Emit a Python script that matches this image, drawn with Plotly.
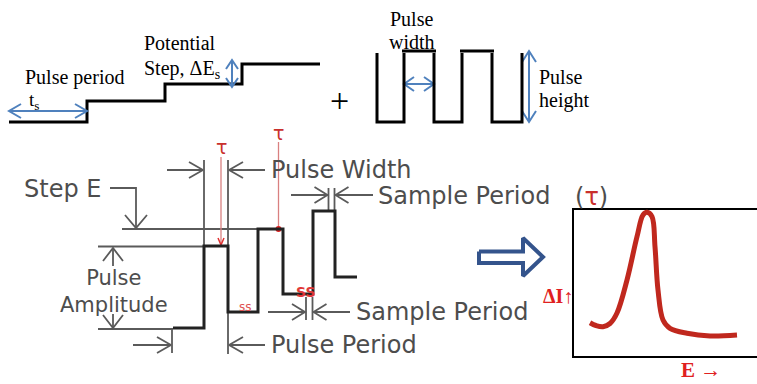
import plotly.graph_objects as go

# ---------------- data (diagram geometry, pixel units) ----------------
# Staircase (potential steps)
stair_x = [9, 87, 165, 242, 320]
stair_y = [122, 101, 84, 64]
# Square wave (pulses)
square_edges = [377, 404, 434, 462, 492, 522]
square_low = 122
square_high = 53
square_cap = 51
# Differential pulse waveform
dpv_x = [173, 204, 204, 228, 228, 258, 258, 283, 283, 313, 313, 335, 335, 357]
dpv_y = [328, 328, 246, 246, 312, 312, 229, 229, 294, 294, 211, 211, 277, 277]
# Peak-shaped response curve
peak_x = [590, 596, 603, 610, 617, 627, 637, 643, 647, 652, 655, 658, 663, 670, 687, 710, 737]
peak_y = [322.7, 325.5, 326.7, 323.5, 313, 280, 236.7, 215, 212.3, 216.7, 246.7, 290, 320, 328.3, 333.3, 336, 335]

GRAY = "#5a5a5a"
GRAY_TXT = "#4d4d4d"
BLUE = "#4f81bd"
DARK_BLUE = "#34548c"
RED = "#c9302c"
RED_LINE = "#d98080"

fig = go.Figure()


def add_path(xs, ys, color, width, shape="linear"):
    fig.add_trace(go.Scatter(x=xs, y=ys, mode="lines",
                             line=dict(color=color, width=width, shape=shape),
                             hoverinfo="skip", showlegend=False))


def add_segments(segments, color, width):
    xs, ys = [], []
    for seg in segments:
        for (x, y) in seg:
            xs.append(x)
            ys.append(y)
        xs.append(None)
        ys.append(None)
    add_path(xs, ys, color, width)


def head(tx, ty, d, length, half):
    # open V arrowhead with tip (tx, ty) pointing in direction d
    if d == "r":
        return [(tx - length, ty - half), (tx, ty), (tx - length, ty + half)]
    if d == "l":
        return [(tx + length, ty - half), (tx, ty), (tx + length, ty + half)]
    if d == "d":
        return [(tx - half, ty - length), (tx, ty), (tx + half, ty - length)]
    return [(tx - half, ty + length), (tx, ty), (tx + half, ty + length)]


def text(x, y, s, size, color, family, xanchor="left", yanchor="middle"):
    fig.add_annotation(x=x, y=y, text=s, showarrow=False, xanchor=xanchor,
                       yanchor=yanchor, font=dict(size=size, color=color, family=family))


SERIF = "Liberation Serif"
SANS = "DejaVu Sans"
SANS_SIZE = 24

# ---------------- top: staircase ----------------
sx, sy = [stair_x[0]], [stair_y[0]]
for i, lvl in enumerate(stair_y):
    sx += [stair_x[i + 1]]
    sy += [lvl]
    if i + 1 < len(stair_y):
        sx += [stair_x[i + 1]]
        sy += [stair_y[i + 1]]
add_path(sx, sy, "black", 3)

# blue double arrows of staircase
blue_segs = [
    [(stair_x[0], 111), (stair_x[1], 111)],
    head(stair_x[0], 111, "l", 12, 7), head(stair_x[1], 111, "r", 12, 7),
    [(232, 60), (232, 87)],
    head(232, 60, "u", 9, 6), head(232, 87, "d", 9, 6),
    # square-wave arrows
    [(square_edges[1], 84), (square_edges[2], 84)],
    head(square_edges[1], 84, "l", 10, 7), head(square_edges[2], 84, "r", 10, 7),
    [(529, 51), (529, 122)],
    head(529, 51, "u", 11, 7), head(529, 122, "d", 11, 7),
]
add_segments(blue_segs, BLUE, 2)

# ---------------- top: square wave ----------------
sq_segs = []
for i in range(0, len(square_edges) - 1, 2):
    a, b = square_edges[i], square_edges[i + 1]
    sq_segs.append([(a, square_high), (a, square_low), (b, square_low), (b, square_high)])
for i in range(1, len(square_edges) - 1, 2):
    a, b = square_edges[i], square_edges[i + 1]
    sq_segs.append([(a - 2, square_cap), (b + 2, square_cap)])
add_segments(sq_segs, "black", 3)

text(23, 77, "Pulse period", 20, "black", SERIF)
text(27, 101, "t<sub>s</sub>", 19, "black", SERIF)
text(142, 43, "Potential", 20, "black", SERIF)
text(142, 69, "Step, ΔE<sub>s</sub>", 20, "black", SERIF)
text(339.5, 100, "+", 34, "black", SERIF, xanchor="center")
text(411, 19, "Pulse", 20, "black", SERIF, xanchor="center")
text(412, 42, "width", 20, "black", SERIF, xanchor="center")
text(537, 77, "Pulse", 20, "black", SERIF)
text(537, 100, "height", 20, "black", SERIF)

# ---------------- bottom: gray dimension lines ----------------
g = []
# step E leader
g += [[(110, 188), (136, 188), (136, 228)], head(136, 228, "d", 13, 11)]
g += [[(122, 229), (258, 229)]]
# pulse amplitude
g += [[(98, 246.5), (204, 246.5)], [(98, 329), (173, 329)]]
g += [[(113, 248), (113, 266)], head(113, 248, "u", 13, 10)]
g += [[(113, 314), (113, 328)], head(113, 328, "d", 13, 10)]
# pulse width
g += [[(204, 160), (204, 246)], [(228, 160), (228, 246)], [(228, 313), (228, 354)]]
g += [[(167, 170), (203, 170)], head(203, 170, "r", 14, 8)]
g += [[(265, 170), (229, 170)], head(229, 170, "l", 14, 8)]
# pulse period
g += [[(172, 328), (172, 353)]]
g += [[(133, 345), (171, 345)], head(171, 345, "r", 14, 8)]
g += [[(265, 345), (229, 345)], head(229, 345, "l", 14, 8)]
# sample period top
g += [[(328.5, 188), (328.5, 211)], [(334.5, 188), (334.5, 211)]]
g += [[(291, 195), (327.5, 195)], head(327.5, 195, "r", 13, 8)]
g += [[(373, 195), (335.5, 195)], head(335.5, 195, "l", 13, 8)]
# sample period bottom
g += [[(306, 297), (306, 320)], [(312.5, 297), (312.5, 320)]]
g += [[(268, 312), (305, 312)], head(305, 312, "r", 13, 8)]
g += [[(350, 312), (313.5, 312)], head(313.5, 312, "l", 13, 8)]
add_segments(g, GRAY, 1.8)

# red tau markers
add_segments([[(221, 157), (221, 246)], [(278.5, 142), (278.5, 229)]], RED_LINE, 1.3)
add_segments([head(221, 245, "d", 7, 3)], "#e03030", 1.5)
fig.add_trace(go.Scatter(x=[278.5], y=[229], mode="markers",
                         marker=dict(color="#e02020", size=6), hoverinfo="skip", showlegend=False))

# pulse waveform
add_path(dpv_x, dpv_y, "#222222", 3)

text(22, 189, "Step E", SANS_SIZE, GRAY_TXT, SANS)
text(114, 291, "Pulse<br>Amplitude", 21, GRAY_TXT, SANS, xanchor="center")
text(269, 170, "Pulse Width", SANS_SIZE, GRAY_TXT, SANS)
text(376, 196, "Sample Period", SANS_SIZE, GRAY_TXT, SANS)
text(573, 197, "(<span style='color:#c9302c'>τ</span>)", SANS_SIZE, GRAY_TXT, SANS)
text(354, 312, "Sample Period", SANS_SIZE, GRAY_TXT, SANS)
text(269, 345, "Pulse Period", SANS_SIZE, GRAY_TXT, SANS)
text(221.5, 147, "τ", 19, RED, SANS, xanchor="center")
text(278.5, 133, "τ", 19, RED, SANS, xanchor="center")
text(245, 307, "ss", 12, "#e05050", SANS, xanchor="center")
text(306, 292, "<b>SS</b>", 14, "#e03838", SANS, xanchor="center")

# ---------------- hollow blue arrow ----------------
arr_x = [479, 523, 523, 543, 523, 523, 479, 479]
arr_y = [251.5, 251.5, 238, 257, 276, 263, 263, 251.5]
fig.add_trace(go.Scatter(x=arr_x, y=arr_y, mode="lines", fill="toself", fillcolor="white",
                         line=dict(color=DARK_BLUE, width=4), hoverinfo="skip", showlegend=False))

# ---------------- response box & peak ----------------
add_path([770, 573, 573, 770], [209, 209, 357, 357], "black", 2)
add_path(peak_x, peak_y, "#c0281e", 5, shape="spline")
text(541, 296, "<b>ΔI↑</b>", 20, "#e02020", SERIF)
text(679, 383.5, "<b>E →</b>", 21, "#e02020", SERIF, yanchor="bottom")

fig.update_layout(
    width=757, height=384, autosize=False,
    margin=dict(l=0, r=0, t=0, b=0),
    paper_bgcolor="white", plot_bgcolor="white",
    xaxis=dict(range=[0, 757], visible=False, fixedrange=True),
    yaxis=dict(range=[384, 0], visible=False, fixedrange=True),
)
fig.write_html("out.html")
